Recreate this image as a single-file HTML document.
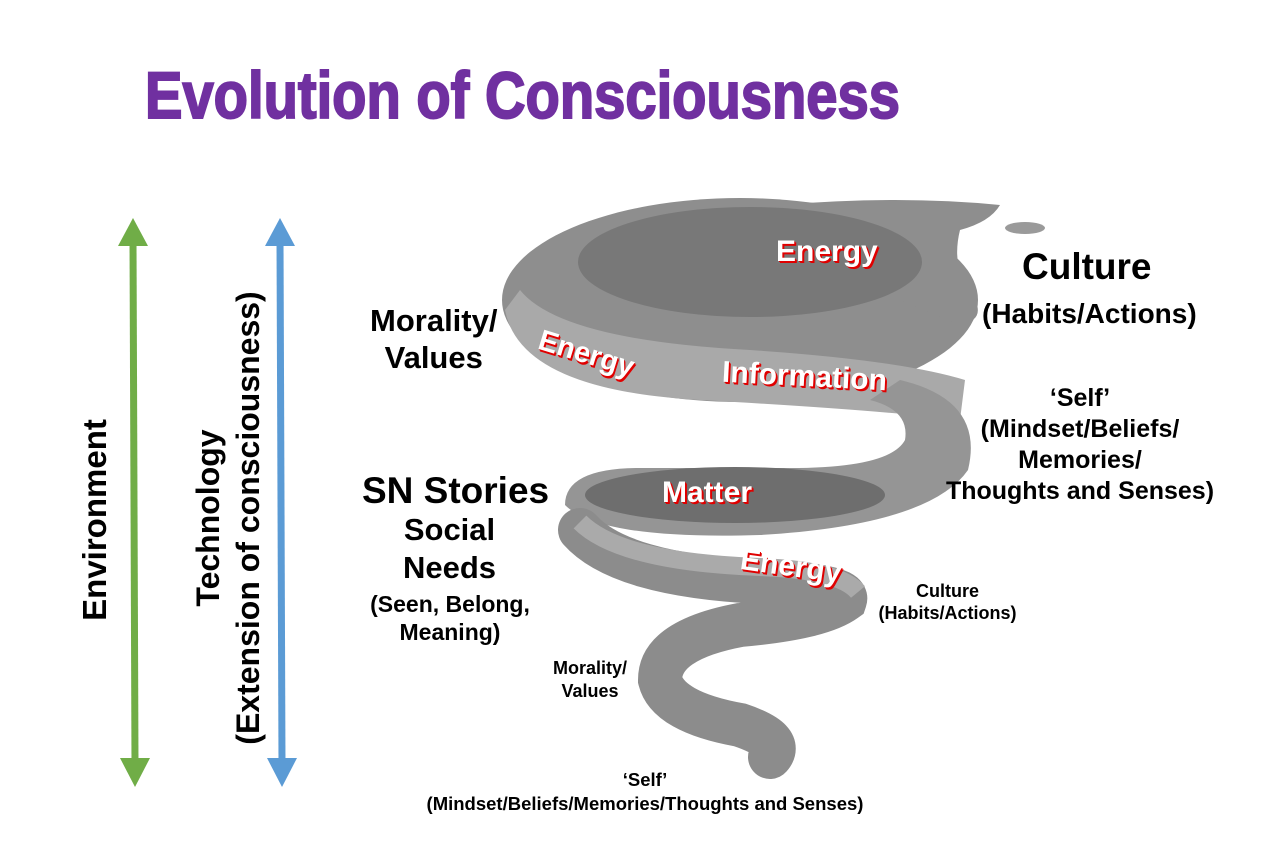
<!DOCTYPE html>
<html><head><meta charset="utf-8"><style>
body{margin:0;width:1270px;height:841px;background:#fff;overflow:hidden;position:relative;font-family:"Liberation Sans",Arial,sans-serif}
.t{position:absolute;font-weight:bold;color:#000;text-align:center;white-space:nowrap}
.r{color:#fff;text-shadow:2px 2px 0 #e00000,1px 1px 0 #e00000}
</style></head><body>
<svg width="1270" height="841" style="position:absolute;left:0;top:0">
<text x="145" y="118" font-family="Liberation Sans" font-weight="bold" font-size="66" fill="#7030a0" textLength="755" lengthAdjust="spacingAndGlyphs" stroke="#7030a0" stroke-width="2">Evolution of Consciousness</text>
<line x1="133" y1="240" x2="135" y2="765" stroke="#70ad47" stroke-width="7"/>
<polygon points="133,218 118,246 148,246" fill="#70ad47"/>
<polygon points="135,787 120,758 150,758" fill="#70ad47"/>
<line x1="280" y1="240" x2="282" y2="765" stroke="#5b9bd5" stroke-width="7"/>
<polygon points="280,218 265,246 295,246" fill="#5b9bd5"/>
<polygon points="282,787 267,758 297,758" fill="#5b9bd5"/>
<!-- spiral -->
<ellipse cx="740" cy="300" rx="238" ry="102" fill="#8e8e8e"/>
<path d="M780,205 Q900,195 1000,205 Q990,222 960,230 Q950,270 975,300 Q985,320 960,325 L900,300 Z" fill="#8e8e8e"/>
<ellipse cx="1025" cy="228" rx="20" ry="6" fill="#9a9a9a"/>
<ellipse cx="750" cy="262" rx="172" ry="55" fill="#787878"/>
<path d="M505,310 Q520,390 700,400 Q880,410 960,420 L965,380 Q900,360 750,350 Q560,340 520,290 Z" fill="#a9a9a9"/>
<path d="M900,380 Q985,400 968,470 Q930,525 760,535 Q600,540 565,505 Q565,468 640,468 L790,468 Q890,468 905,440 Q910,410 870,400 Z" fill="#959595"/>
<ellipse cx="735" cy="495" rx="150" ry="28" fill="#6e6e6e"/>
<path d="M580,530 Q620,575 760,582 Q850,585 845,600 Q820,618 740,625 Q660,640 660,680 Q668,712 740,725 Q785,740 770,757" fill="none" stroke="#8c8c8c" stroke-width="44" stroke-linecap="round"/>
<path d="M580,522 Q620,562 760,567 Q840,570 858,592" fill="none" stroke="#aaaaaa" stroke-width="18"/>
</svg>
<div class="t" style="left:1022px;top:246px;font-size:37px">Culture</div>
<div class="t" style="left:982px;top:298px;font-size:28px">(Habits/Actions)</div>
<div class="t" style="left:370px;top:302px;font-size:31px;line-height:37px">Morality/<br>Values</div>
<div class="t" style="left:945px;top:383px;font-size:25px;line-height:31px;width:270px">‘Self’<br>(Mindset/Beliefs/<br>Memories/<br>Thoughts and Senses)</div>
<div class="t" style="left:362px;top:470px;font-size:37px">SN Stories</div>
<div class="t" style="left:367px;top:511px;font-size:31px;line-height:38px;width:165px">Social<br>Needs</div>
<div class="t" style="left:365px;top:590px;font-size:23px;line-height:28px;width:170px">(Seen, Belong,<br>Meaning)</div>
<div class="t" style="left:870px;top:580px;font-size:18px;line-height:22px;width:155px">Culture<br>(Habits/Actions)</div>
<div class="t" style="left:540px;top:657px;font-size:18px;line-height:23px;width:100px">Morality/<br>Values</div>
<div class="t" style="left:400px;top:768px;font-size:18.5px;line-height:24px;width:490px">‘Self’<br>(Mindset/Beliefs/Memories/Thoughts and Senses)</div>
<div class="t" style="left:95px;top:520px;font-size:33px;transform:translate(-50%,-50%) rotate(-90deg)">Environment</div>
<div class="t" style="left:228px;top:518px;font-size:32px;line-height:40px;transform:translate(-50%,-50%) rotate(-90deg)">Technology<br>(Extension of consciousness)</div>
<div class="t r" style="left:776px;top:235px;font-size:30px">Energy</div>
<div class="t r" style="left:537px;top:338px;font-size:29px;transform:rotate(17deg)">Energy</div>
<div class="t r" style="left:722px;top:360px;font-size:30px;transform:rotate(3deg)">Information</div>
<div class="t r" style="left:662px;top:476px;font-size:30px">Matter</div>
<div class="t r" style="left:740px;top:550px;font-size:30px;transform:rotate(8deg)">Energy</div>
</body></html>
